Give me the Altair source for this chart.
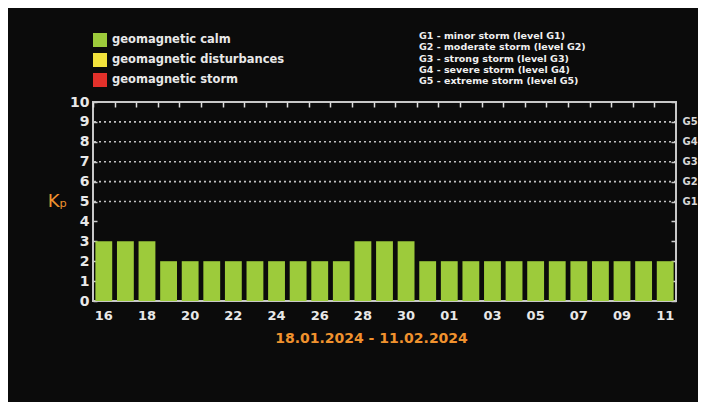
import altair as alt
import pandas as pd

# ---- data ----
days = ["16", "17", "18", "19", "20", "21", "22", "23", "24", "25", "26", "27", "28",
        "29", "30", "31", "01", "02", "03", "04", "05", "06", "07", "08", "09", "10", "11"]
kp = [3, 3, 3, 2, 2, 2, 2, 2, 2, 2, 2, 2, 3, 3, 3, 2, 2, 2, 2, 2, 2, 2, 2, 2, 2, 2, 2]
status = ["geomagnetic calm"] * len(days)
x_tick_labels = ["16", "18", "20", "22", "24", "26", "28", "30", "01", "03", "05", "07", "09", "11"]
y_ticks = [0, 1, 2, 3, 4, 5, 6, 7, 8, 9, 10]

categories = ["geomagnetic calm", "geomagnetic disturbances", "geomagnetic storm"]
category_colors = ["#9dcb3b", "#f2e23c", "#e2312b"]

storm_levels = [5, 6, 7, 8, 9]
storm_labels = ["G1", "G2", "G3", "G4", "G5"]
storm_descriptions = [
    "G1 - minor storm (level G1)",
    "G2 - moderate storm (level G2)",
    "G3 - strong storm (level G3)",
    "G4 - severe storm (level G4)",
    "G5 - extreme storm (level G5)",
]
period = "18.01.2024 - 11.02.2024"
y_title = "Kₚ"

FONT = "DejaVu Sans"
ORANGE = "#f0922e"
LIGHT = "#e8e8e8"

df = pd.DataFrame({"day": days, "kp": kp, "status": status})
levels_df = pd.DataFrame({"level": storm_levels, "label": storm_labels})

label_expr = " : ".join(
    f"datum.value == {lv} ? '{lb}'" for lv, lb in zip(storm_levels, storm_labels)
) + " : ''"

x_scale = alt.Scale(domain=days, paddingInner=0.22, paddingOuter=0.11)
y_scale = alt.Scale(domain=[0, 10], nice=False)

bars = alt.Chart(df).mark_bar().encode(
    x=alt.X("day:N", scale=x_scale,
            axis=alt.Axis(orient="bottom", values=x_tick_labels, labelAngle=0, ticks=False,
                          domain=False, grid=False, title=None, labelFont=FONT,
                          labelFontSize=13, labelFontWeight="bold", labelColor=LIGHT,
                          labelPadding=8)),
    y=alt.Y("kp:Q", scale=y_scale,
            axis=alt.Axis(orient="left", values=y_ticks, offset=-4, tickSize=4,
                          tickColor="#cccccc", tickWidth=1.5, domain=False, grid=False,
                          labelFont=FONT, labelFontSize=14, labelFontWeight="bold",
                          labelColor=LIGHT, labelPadding=4,
                          title=y_title, titleAngle=0, titleX=-40, titleY=99,
                          titleAlign="center", titleBaseline="middle", titleColor=ORANGE,
                          titleFont=FONT, titleFontSize=18, titleFontWeight="normal")),
    color=alt.Color("status:N", scale=alt.Scale(domain=categories, range=category_colors),
                    legend=alt.Legend(title=None, orient="none", legendX=0, legendY=-69,
                                      symbolType="square", symbolSize=196,
                                      symbolStrokeWidth=0, symbolOpacity=1,
                                      labelFont=FONT, labelFontSize=11.5,
                                      labelFontWeight="bold", labelColor=LIGHT,
                                      labelLimit=0, labelOffset=5, rowPadding=6,
                                      padding=0)),
)

top_ticks = alt.Chart(df).mark_point(opacity=0).encode(
    x=alt.X("day:N", scale=x_scale,
            axis=alt.Axis(orient="top", labels=False, domain=False, grid=False, title=None,
                          ticks=True, tickSize=5, offset=-5, bandPosition=0,
                          tickOffset=-2.4, tickColor="#dddddd", tickWidth=1.5)),
)

grid = alt.Chart(levels_df).mark_rule(color="#c4c4c4", strokeDash=[2, 3],
                                      strokeWidth=1.6).encode(
    y=alt.Y("level:Q", scale=y_scale,
            axis=alt.Axis(orient="right", values=y_ticks, labelExpr=label_expr, offset=-5,
                          tickSize=5, tickColor="#cccccc", tickWidth=1.5, domain=False,
                          grid=False, title=None, labelFont=FONT, labelFontSize=10,
                          labelFontWeight="bold", labelColor="#d8d8d8", labelPadding=6)),
)

desc = alt.Chart(pd.DataFrame({"k": [0]})).mark_text(
    text=storm_descriptions, align="left", baseline="top", font=FONT, fontSize=9.5,
    fontWeight="bold", color="#f0f0f0", lineHeight=11.3,
).encode(x=alt.value(326), y=alt.value(-71))

chart = alt.layer(grid, bars, top_ticks, desc).resolve_axis(
    x="independent", y="independent"
).properties(
    width=583, height=199,
    autosize=alt.AutoSizeParams(type="none"),
    padding={"left": 85, "top": 94, "right": 22, "bottom": 101},
    background="#0b0b0b",
    title=alt.Title(period, orient="bottom", anchor="middle", color=ORANGE, font=FONT,
                    fontSize=14, fontWeight="bold", dx=-13, offset=10),
).configure_view(stroke="#c8c8c8", strokeWidth=2)

chart.save("out.html", embed_options={"renderer": "svg", "actions": False})
